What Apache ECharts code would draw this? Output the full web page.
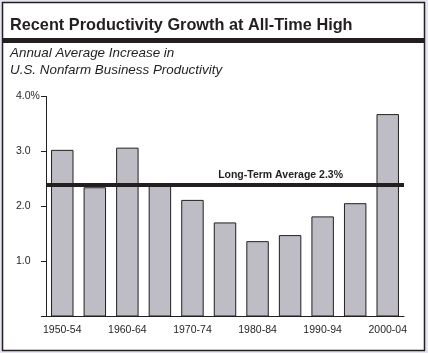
<!DOCTYPE html>
<html>
<head>
<meta charset="utf-8">
<script src="https://cdn.jsdelivr.net/npm/echarts@6/dist/echarts.min.js"></script>
<style>
  html, body { margin: 0; padding: 0; background: #e6e4f0; }
  #chart { width: 428px; height: 353px; }
</style>
</head>
<body>
<div id="chart"></div>
<script>
// periods and annual average productivity growth (%)
const periods = ['1950-54', '1955-59', '1960-64', '1965-69', '1970-74', '1975-79',
  '1980-84', '1985-89', '1990-94', '1995-99', '2000-04']
const growth = [3.03, 2.35, 3.07, 2.39, 2.12, 1.71, 1.37, 1.48, 1.82, 2.06, 3.68]
const yTicks = [0, 1, 2, 3, 4]
const avgLineValue = 2.4
const avgLabel = 'Long-Term Average 2.3%'

const chart = echarts.init(document.getElementById('chart'))
const font = 'Liberation Sans, Arial, sans-serif'
const ink = '#231f20'

let option = {
  backgroundColor: '#e6e4f0',
  animation: false,
  textStyle: { fontFamily: font },
  graphic: [
    {
      type: 'rect',
      shape: { x: 2.5, y: 2.5, width: 422, height: 348 },
      style: { fill: '#fff', stroke: ink, lineWidth: 1.5 },
      z: -10
    },
    {
      type: 'rect',
      shape: { x: 3, y: 38, width: 421, height: 5 },
      style: { fill: ink }
    },
    {
      type: 'text',
      left: 10,
      top: 18,
      style: {
        text: 'Recent Productivity Growth at All-Time High',
        font: 'bold 16.3px ' + font,
        fill: ink
      }
    },
    {
      type: 'text',
      left: 10,
      top: 45,
      style: {
        text: 'Annual Average Increase in\nU.S. Nonfarm Business Productivity',
        font: 'italic 13.4px ' + font,
        lineHeight: 17,
        fill: ink
      }
    }
  ],
  grid: {
    left: 46,
    right: 24,
    top: 96.5,
    bottom: 36.5
  },
  xAxis: {
    type: 'category',
    data: periods,
    axisLine: { lineStyle: { color: ink, width: 1 } },
    axisTick: { show: false },
    axisLabel: {
      interval: 1,
      color: ink,
      fontSize: 10.5,
      margin: 8
    }
  },
  yAxis: {
    type: 'value',
    min: yTicks[0],
    max: yTicks[yTicks.length - 1],
    interval: 1,
    splitLine: { show: false },
    axisLine: { show: true, lineStyle: { color: ink, width: 1 } },
    axisTick: { show: true, length: 5, lineStyle: { color: ink } },
    axisLabel: {
      color: ink,
      fontSize: 10.5,
      align: 'left',
      margin: 30,
      formatter: function (v) {
        if (v === 0) return ''
        if (v === 4) return '4.0%'
        return v.toFixed(1)
      }
    }
  },
  series: [
    {
      type: 'bar',
      data: growth,
      barWidth: '69%',
      itemStyle: {
        color: '#bebdc6',
        borderColor: ink,
        borderWidth: 1
      },
      markLine: {
        silent: true,
        symbol: 'none',
        lineStyle: { color: ink, width: 4, type: 'solid' },
        label: {
          show: true,
          position: 'insideEndTop',
          distance: [61, 4],
          formatter: avgLabel,
          color: ink,
          fontWeight: 'bold',
          fontSize: 10.5,
          fontFamily: font
        },
        data: [{ yAxis: avgLineValue }]
      }
    }
  ]
}
chart.setOption(option)
</script>
</body>
</html>
